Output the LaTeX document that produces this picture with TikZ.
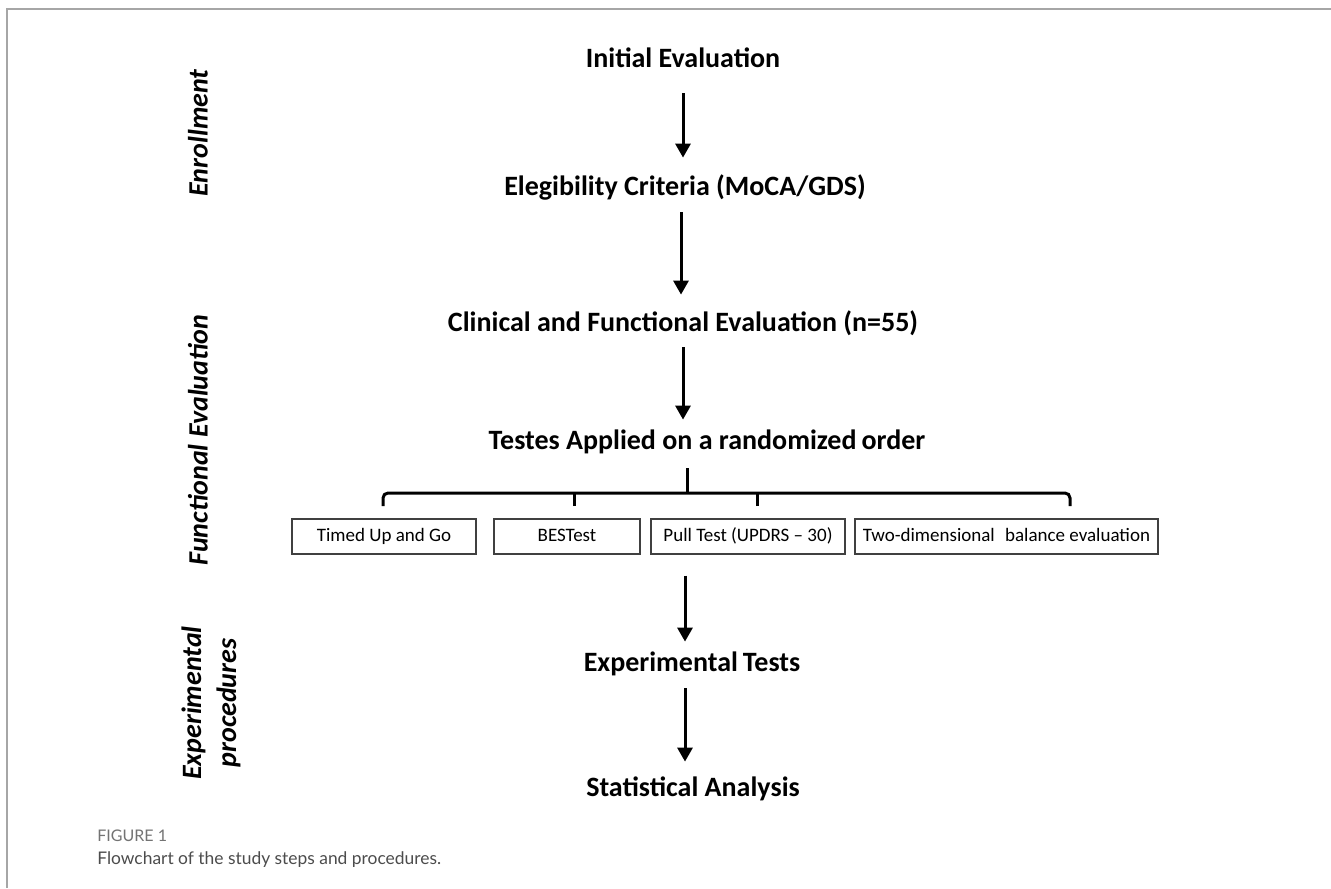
\documentclass[tikz,border=0pt]{standalone}
\usepackage{fontspec}
\setmainfont{Carlito}
\newfontfamily\capfont{Lato}
\usetikzlibrary{arrows.meta}
\begin{document}
\begin{tikzpicture}[x=0.5pt,y=-0.5pt,
  main/.style={font=\bfseries\fontsize{14}{16}\selectfont, inner sep=0pt, text height=9.5pt, text depth=2.5pt, anchor=base},
  side/.style={font=\bfseries\itshape\fontsize{14}{17.5}\selectfont, rotate=90, inner sep=0pt, align=center},
  testbox/.style={draw=black!75, line width=0.7pt, font=\fontsize{9.5}{11}\selectfont, minimum height=17.5pt, inner sep=0pt, text height=6.8pt, text depth=2pt},
  arr/.style={line width=1.5pt, -{Triangle[width=7.5pt,length=7pt]}},
  brk/.style={line width=1.5pt},
  capsmall/.style={anchor=base west, inner sep=0pt, font=\capfont\fontsize{8}{9}\selectfont, text=black!55},
  captext/.style={anchor=base west, inner sep=0pt, font=\capfont\fontsize{8.7}{11}\selectfont, text=black!70},
]
\useasboundingbox (0,0) rectangle (1331,888);
\fill[white] (0,0) rectangle (1331,888);
\draw[black!35, line width=1pt] (7,888) -- (7,9) -- (1331,9);

% main steps
\node[main] (init) at (683,68) {Initial Evaluation};
\node[main] (elig) at (685,195) {Elegibility Criteria (MoCA/GDS)};
\node[main] (clin) at (683,331) {Clinical and Functional Evaluation (n=55)};
\node[main] (test) at (707,449) {Testes Applied on a randomized\kern2.5pt order};
\node[main] (expt) at (692,671) {Experimental\kern2.5pt Tests};
\node[main] (stat) at (693,796) {Statistical Analysis};

% test boxes
\node[testbox, minimum width=92pt] (b1) at (384,536.5) {Timed Up and Go};
\node[testbox, minimum width=73pt] (b2) at (567,536.5) {BESTest};
\node[testbox, minimum width=97pt] (b3) at (748,536.5) {Pull Test (UPDRS -- 30)};
\node[testbox, minimum width=151.5pt] (b4) at (1006.5,536.5) {Two-dimensional\hspace{3pt} balance evaluation};

% side labels
\node[side] (enr) at (198,133) {Enrollment};
\node[side] (fun) at (198,440) {Functional Evaluation};
\node[side] (exp) at (211,703) {Experimental\\procedures};

% arrows
\draw[arr, shorten <=10pt, shorten >=9pt] (init.south) -- (init.south |- elig.north);
\draw[arr, shorten <=6pt, shorten >=8.5pt] ([xshift=-1pt]clin.north |- elig.south) -- ([xshift=-1pt]clin.north);
\draw[arr, shorten <=5.5pt, shorten >=5pt] (clin.south) -- (clin.south |- test.north);
\draw[arr, shorten <=10.5pt, shorten >=5pt] ([xshift=-3.5pt]expt.north |- b3.south) -- ([xshift=-3.5pt]expt.north);
\draw[arr, shorten <=6pt, shorten >=7.5pt] ([xshift=-3.5pt]expt.south) -- ([xshift=-3.5pt]expt.south |- stat.north);

% bracket
\coordinate (bar) at (687,493);
\coordinate (d1) at (383,506);
\coordinate (d2) at (574,506);
\coordinate (d3) at (757,506);
\coordinate (d4) at (1070,506);
\draw[brk, shorten <=7pt] ([xshift=-10pt]test.south) -- ([xshift=-10pt]test.south |- bar);
\draw[brk, rounded corners=2.5pt] (d1) -- (d1 |- bar) -- (d4 |- bar) -- (d4);
\draw[brk] (d2) -- (d2 |- bar);
\draw[brk] (d3) -- (d3 |- bar);

% caption
\node[capsmall] (fig) at (97,841) {FIGURE 1};
\node[captext] (cap) at (97,864) {Flowchart of the study steps and procedures.};
\end{tikzpicture}
\end{document}
